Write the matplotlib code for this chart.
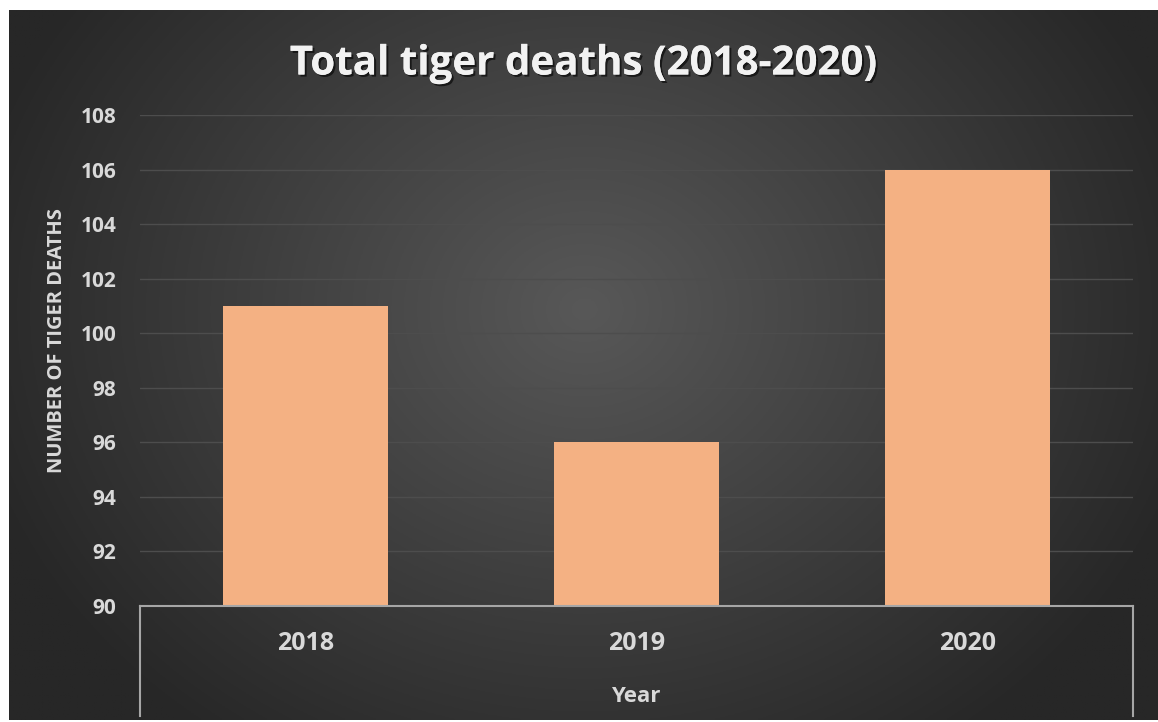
import numpy as np
import matplotlib
matplotlib.use("Agg")
import matplotlib.pyplot as plt
from matplotlib.lines import Line2D
import matplotlib.patheffects as pe

years = ["2018", "2019", "2020"]
deaths = [101, 96, 106]
yticks = [90, 92, 94, 96, 98, 100, 102, 104, 106, 108]

W, H = 1158, 722
fig = plt.figure(figsize=(W / 100, H / 100), dpi=100)
fig.patch.set_facecolor("white")

def fx(px):
    return px / W

def fy(py):
    return 1 - py / H

# background with radial gradient
bg = fig.add_axes([fx(9), fy(720), fx(1158) - fx(9), fy(10) - fy(720)])
bg.set_axis_off()
ny, nx = 300, 480
yy, xx = np.mgrid[0:ny, 0:nx]
cx, cy = nx * 0.5, ny * 0.42
r = np.sqrt(((xx - cx) / (nx * 0.55)) ** 2 + ((yy - cy) / (ny * 0.75)) ** 2)
r = np.clip(r, 0, 1)
c0 = np.array([0x58, 0x58, 0x58]) / 255
c1 = np.array([0x27, 0x27, 0x27]) / 255
img = c0[None, None, :] * (1 - r[..., None]) + c1[None, None, :] * r[..., None]
bg.imshow(img, aspect="auto", extent=[0, 1, 0, 1], origin="upper")
bg.set_xlim(0, 1)
bg.set_ylim(0, 1)

ax = fig.add_axes([fx(140), fy(606), fx(1133) - fx(140), fy(115) - fy(606)])
ax.patch.set_alpha(0)
x = np.arange(len(years))
ax.bar(x, [d - 90 for d in deaths], bottom=90, width=0.5, color="#F4B183", zorder=3)
ax.set_xlim(-0.5, len(years) - 0.5)
ax.set_ylim(90, 108)
ax.set_yticks(yticks)
ax.set_yticklabels([str(t) for t in yticks], fontsize=15, fontweight="bold",
                   color="#d9d9d9", family="Open Sans")
ax.tick_params(axis="y", length=0, pad=17)
ax.set_xticks([])
ax.grid(axis="y", color="#4d4d4d", linewidth=1.0, zorder=0)
for s in ["top", "right", "left"]:
    ax.spines[s].set_visible(False)
ax.spines["bottom"].set_color("#a6a6a6")
ax.spines["bottom"].set_linewidth(1.5)
ax.spines["bottom"].set_zorder(4)

# category box lines
for px in (140, 1133):
    fig.add_artist(Line2D([fx(px), fx(px)], [fy(606), fy(716)], color="#a6a6a6", lw=1.5))

for i, yr in enumerate(years):
    xc = 140 + (i + 0.5) * (1133 - 140) / len(years)
    fig.text(fx(xc), fy(643), yr, ha="center", va="center", fontsize=18,
             fontweight="bold", color="#d9d9d9", family="Open Sans")

fig.text(fx(636), fy(697), "Year", ha="center", va="center", fontsize=16,
         fontweight="bold", color="#d9d9d9", family="Open Sans")

fig.text(fx(57), fy(341), "NUMBER OF TIGER DEATHS", rotation=90, ha="center",
         va="center", fontsize=14.5, fontweight="bold", color="#d9d9d9", family="Open Sans")

t = fig.text(fx(583), fy(64), "Total tiger deaths (2018-2020)", ha="center", va="center",
             fontsize=29, fontweight="bold", color="#f2f2f2", family="Open Sans")
t.set_path_effects([pe.withSimplePatchShadow(offset=(1.5, -1.5), shadow_rgbFace="black", alpha=0.6),
                    pe.Normal()])

fig.savefig("out.png", dpi=100, facecolor=fig.get_facecolor())
